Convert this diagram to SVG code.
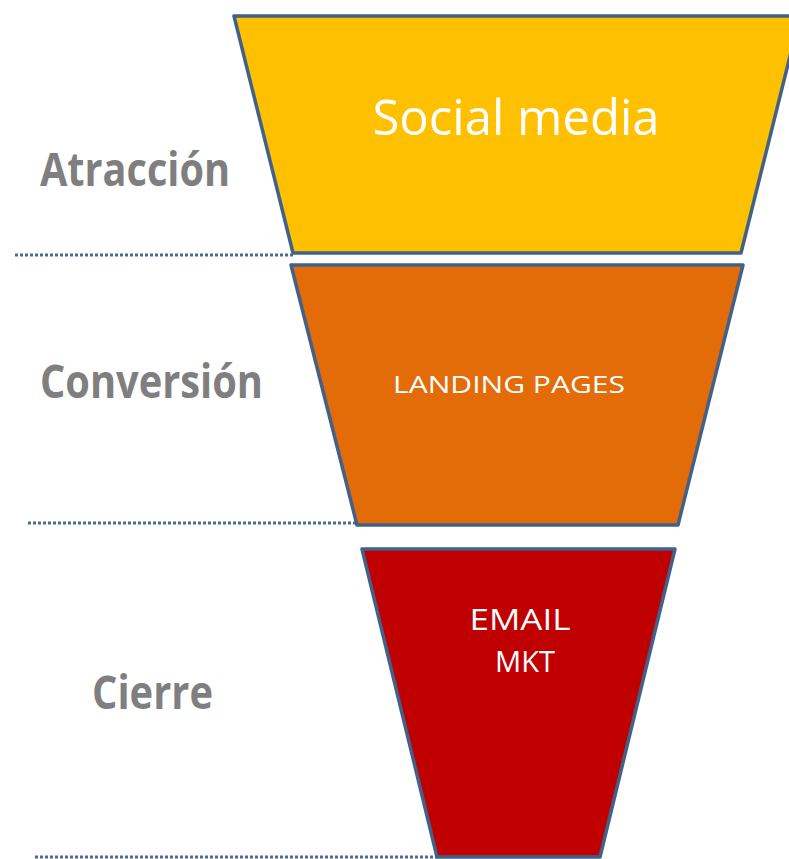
<svg xmlns="http://www.w3.org/2000/svg" width="789" height="859" viewBox="0 0 789 859">
<style>
.stage{stroke:#41618A;stroke-width:3.5;stroke-linejoin:round}
.lbl{font-family:"Open Sans","Liberation Sans",sans-serif;font-weight:700;fill:#7F7F7F}
.in{font-family:"Open Sans","Liberation Sans",sans-serif;fill:#FFFFFF}
.dot{stroke:#4A6C90;stroke-width:3;stroke-dasharray:3 2;fill:none}
</style>
<rect width="789" height="859" fill="#FFFFFF"/>
<g id="connectors">
<line class="dot" x1="15" y1="255" x2="293" y2="255"/>
<line class="dot" x1="28" y1="523" x2="357" y2="523"/>
<line class="dot" x1="35" y1="857" x2="437" y2="857"/>
</g>
<g id="stage-social">
<polygon class="stage" fill="#FFC000" points="234,16 800,16 741,253 293,253"/>
<text class="in" x="516" y="135" font-size="50" text-anchor="middle" textLength="287" lengthAdjust="spacingAndGlyphs">Social media</text>
</g>
<g id="stage-landing">
<polygon class="stage" fill="#E36C09" points="291,265 743,265 678,525 357,525"/>
<text class="in" x="509" y="393" font-size="24" text-anchor="middle" textLength="232" lengthAdjust="spacingAndGlyphs">LANDING PAGES</text>
</g>
<g id="stage-email">
<polygon class="stage" fill="#C00000" points="362,549 675,549 600,857 437,857"/>
<text class="in" x="520" y="630" font-size="30" text-anchor="middle" textLength="101" lengthAdjust="spacingAndGlyphs">EMAIL</text>
<text class="in" x="525" y="672" font-size="30" text-anchor="middle" textLength="60" lengthAdjust="spacingAndGlyphs">MKT</text>
</g>
<g id="label-atraccion">
<text class="lbl" x="40" y="186" font-size="46" textLength="190" lengthAdjust="spacingAndGlyphs">Atracción</text>
</g>
<g id="label-conversion">
<text class="lbl" x="40" y="398" font-size="46" textLength="223" lengthAdjust="spacingAndGlyphs">Conversión</text>
</g>
<g id="label-cierre">
<text class="lbl" x="92" y="709" font-size="46" textLength="121" lengthAdjust="spacingAndGlyphs">Cierre</text>
</g>
</svg>
